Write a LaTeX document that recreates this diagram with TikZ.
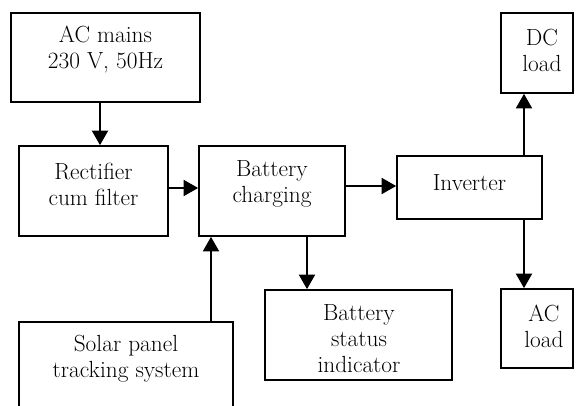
\documentclass[tikz,border=0pt]{standalone}
\usetikzlibrary{arrows.meta}
\begin{document}
\begin{tikzpicture}[x=0.75pt,y=-0.75pt,
  blk/.style={draw, line width=1.2pt, rectangle, inner sep=0pt},
  txt/.style={align=center, inner sep=0pt, font=\fontsize{17.5}{19.5}\selectfont},
  arr/.style={line width=1.7pt, -{Triangle[width=12pt,length=11pt]}, shorten >=0pt}]
\useasboundingbox (0,0) rectangle (576,406);
\clip (0,0) rectangle (576,406);
% boxes
\node[blk, minimum width=189*0.75pt, minimum height=89*0.75pt] (acm) at (105.5,57.5) {};
\node[blk, minimum width=149*0.75pt, minimum height=90*0.75pt] (rect) at (93.5,191) {};
\node[blk, minimum width=146*0.75pt, minimum height=90*0.75pt] (batt) at (272,191) {};
\node[blk, minimum width=145*0.75pt, minimum height=63*0.75pt] (inv) at (469.5,187.5) {};
\node[blk, minimum width=72*0.75pt, minimum height=80*0.75pt] (dc) at (537,53) {};
\node[blk, minimum width=72*0.75pt, minimum height=79*0.75pt] (ac) at (537,328.5) {};
\node[blk, minimum width=187*0.75pt, minimum height=90*0.75pt] (bsi) at (358.5,335) {};
\node[blk, minimum width=214*0.75pt, minimum height=120*0.75pt] (sol) at (126,382) {};
% texts
\node[txt] (tacm) at (105.5,50) {AC mains\\230 V, 50Hz};
\node[txt] (trect) at (93.5,184) {Rectifier\\cum filter};
\node[txt] (tbatt) at (272,184) {Battery\\charging};
\node[txt] (tinv) at (469.5,183) {Inverter};
\node[txt] (tdc) at (542,50) {DC\\load};
\node[txt] (tac) at (544,326) {AC\\load};
\node[txt] (tbsi) at (359,339) {Battery\\status\\indicator};
\node[txt] (tsol) at (126,359) {Solar panel\\tracking system};
% connectors
\draw[arr] (acm.south -| 100,0) -- (rect.north -| 100,0);
\draw[arr] (rect.east |- 0,188) -- (batt.west |- 0,188);
\draw[arr] (batt.east |- 0,186) -- (inv.west |- 0,186);
\draw[arr] (inv.north -| 524,0) -- (dc.south -| 524,0);
\draw[arr] (inv.south -| 524,0) -- (ac.north -| 524,0);
\draw[arr] (batt.south -| 307,0) -- (bsi.north -| 307,0);
\draw[arr] (sol.north -| 211,0) -- (batt.south -| 211,0);
\end{tikzpicture}
\end{document}
